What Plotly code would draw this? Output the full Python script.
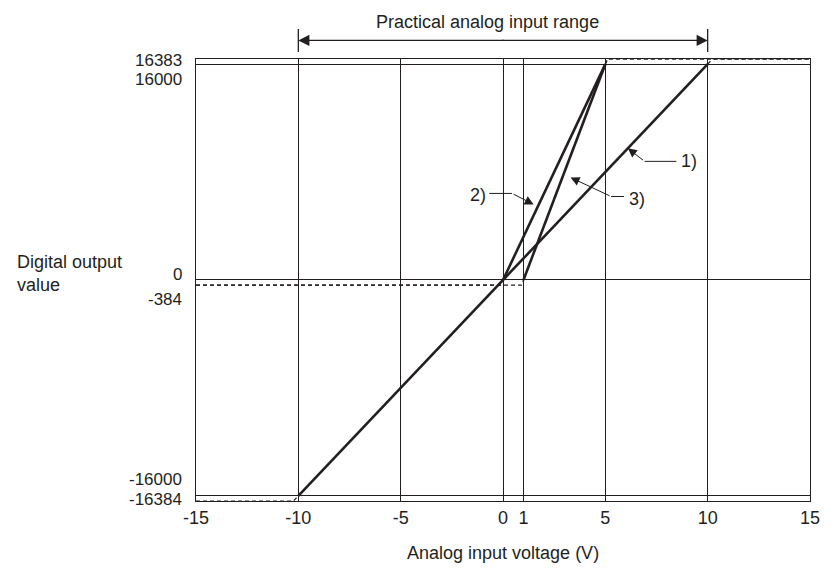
import plotly.graph_objects as go

# ---------------- data ----------------
x_ticks = [-15, -10, -5, 0, 1, 5, 10, 15]
x_tick_labels = ["-15", "-10", "-5", "0", "1", "5", "10", "15"]
y_grid = [-16000, 0, 16000]
y_tick_values = [16383, 16000, 0, -384, -16000, -16384]
y_tick_labels = ["16383", "16000", "0", "-384", "-16000", "-16384"]

# characteristic 1): -10..10 V -> -16000..16000
volt_1 = [-10, 10]
out_1 = [-16000, 16000]
# characteristic 2): 0..5 V -> 0..16000
volt_2 = [0, 5]
out_2 = [0, 16000]
# characteristic 3): 1..5 V -> 0..16000
volt_3 = [1, 5]
out_3 = [0, 16000]

# saturation (dashed) parts
sat1_low_v = [-15, -10.24, -10]
sat1_low_o = [-16384, -16384, -16000]
sat1_high_v = [10, 10.24, 15]
sat1_high_o = [16000, 16383, 16383]
sat2_low_v = [-15, -0.12, 0]
sat2_low_o = [-384, -384, 0]
sat2_high_v = [5, 5.12, 15]
sat2_high_o = [16000, 16383, 16383]
sat3_low_v = [-15, 0.904, 1]
sat3_low_o = [-384, -384, 0]
sat3_high_v = [5, 5.096, 15]
sat3_high_o = [16000, 16383, 16383]

range_label = "Practical analog input range"
range_volt = [-10, 10]
curve_labels = ["1)", "2)", "3)"]

# ---------------- style ----------------
INK = "#231f20"
FONT = "Arial, Liberation Sans, sans-serif"
FS = 18

fig = go.Figure()

for xv, yv in [(sat1_low_v, sat1_low_o), (sat1_high_v, sat1_high_o),
               (sat2_low_v, sat2_low_o), (sat2_high_v, sat2_high_o),
               (sat3_low_v, sat3_low_o), (sat3_high_v, sat3_high_o)]:
    fig.add_trace(go.Scatter(x=xv, y=yv, mode="lines", hoverinfo="skip",
                             line=dict(color=INK, width=1.2, dash="4px,3px"),
                             showlegend=False))

for xv, yv in [(volt_1, out_1), (volt_2, out_2), (volt_3, out_3)]:
    fig.add_trace(go.Scatter(x=xv, y=yv, mode="lines",
                             line=dict(color=INK, width=2.6),
                             showlegend=False))

annotations = []
# y tick labels (as annotations, the schematic labels sit close together)
label_shift = [-1, -15.5, 5, -14, 16.5, 2]
for val, txt, sh in zip(y_tick_values, y_tick_labels, label_shift):
    annotations.append(dict(x=0, xref="paper", y=val, yref="y", text=txt,
                            showarrow=False, xanchor="right", yanchor="middle",
                            xshift=-12, yshift=sh,
                            font=dict(family=FONT, size=FS - 1, color=INK)))

# axis titles
annotations.append(dict(x=-0.2948, xref="paper", y=0, yref="y",
                        text="Digital output<br>value", align="left",
                        showarrow=False, xanchor="left", yanchor="middle",
                        yshift=6, font=dict(family=FONT, size=FS, color=INK)))
annotations.append(dict(x=0.5, xref="paper", y=-0.1185, yref="paper",
                        text="Analog input voltage (V)", showarrow=False,
                        xanchor="center", yanchor="middle",
                        font=dict(family=FONT, size=FS, color=INK)))

# practical range label and double arrow
annotations.append(dict(x=-0.75, xref="x", y=1.0845, yref="paper",
                        text=range_label, showarrow=False,
                        xanchor="center", yanchor="middle",
                        font=dict(family=FONT, size=FS, color=INK)))
for xv, tail in [(range_volt[0], 207), (range_volt[1], -207)]:
    annotations.append(dict(x=xv, xref="x", y=1.0421, yref="paper", text="",
                            showarrow=True, ax=tail, ay=0, arrowhead=2,
                            arrowsize=1.7, arrowwidth=1.3, arrowcolor=INK,
                            standoff=0, startstandoff=0))

shapes = []
for xv in range_volt:
    shapes.append(dict(type="line", xref="x", yref="paper", x0=xv, x1=xv,
                       y0=1.0159, y1=1.068, line=dict(color=INK, width=1.3)))

# curve labels with leader lines
# (tip, elbow, horizontal end, text position, anchor)
leaders = [
    ((6.1, 9760), (6.92, 8795), 8.47, (8.62, 8795), "left"),
    ((1.5, 5600), (0.44, 6417), -0.67, (-0.75, 6300), "right"),
    ((3.3, 7600), (5.28, 6190), 5.91, (6.05, 5970), "left"),
]
for lab, (tip, elbow, hend, tpos, anc) in zip(curve_labels, leaders):
    annotations.append(dict(x=tip[0], y=tip[1], xref="x", yref="y",
                            ax=elbow[0], ay=elbow[1], axref="x", ayref="y",
                            text="", showarrow=True, arrowhead=2,
                            arrowsize=1.8, arrowwidth=1, arrowcolor=INK,
                            standoff=0, startstandoff=0))
    shapes.append(dict(type="line", xref="x", yref="y", x0=elbow[0], x1=hend,
                       y0=elbow[1], y1=elbow[1], line=dict(color=INK, width=1)))
    annotations.append(dict(x=tpos[0], y=tpos[1], xref="x", yref="y", text=lab,
                            showarrow=False, xanchor=anc, yanchor="middle",
                            font=dict(family=FONT, size=FS, color=INK)))

# the page body adds an 8px offset, so the figure is 8px smaller on each side
fig.update_layout(
    width=824, height=560, autosize=False,
    margin=dict(l=188, r=15, t=51, b=67),
    paper_bgcolor="white", plot_bgcolor="white",
    font=dict(family=FONT, size=FS, color=INK),
    annotations=annotations, shapes=shapes,
    showlegend=False,
)
fig.update_xaxes(range=[-15, 15], tickvals=x_ticks, ticktext=x_tick_labels,
                 showgrid=True, gridcolor=INK, gridwidth=1.2, zeroline=False,
                 showline=True, mirror=True, linecolor=INK, linewidth=1.3,
                 ticks="", tickfont=dict(family=FONT, size=FS, color=INK))
fig.update_yaxes(range=[-16384, 16383], tickvals=y_grid, showticklabels=False,
                 showgrid=True, gridcolor=INK, gridwidth=1.2, zeroline=False,
                 showline=True, mirror=True, linecolor=INK, linewidth=1.3,
                 ticks="")

fig.write_html("out.html")
